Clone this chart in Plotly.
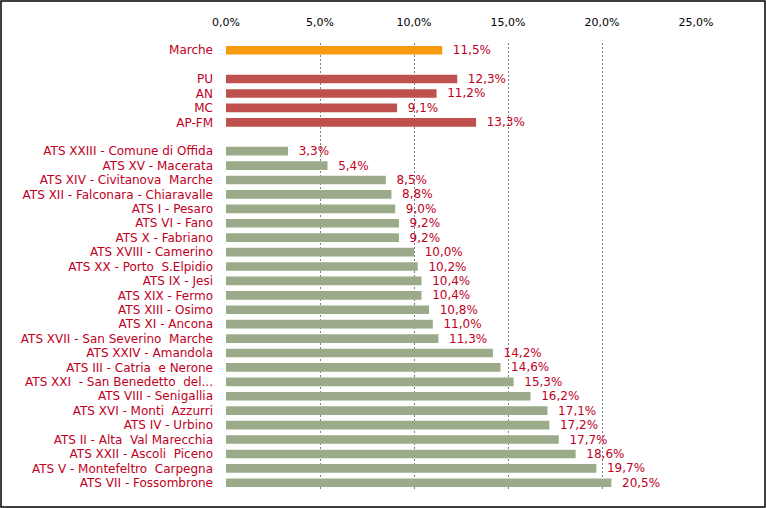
import plotly.graph_objects as go

region_labels = ["Marche"]
region_values = [11.5]

province_labels = ["PU", "AN", "MC", "AP-FM"]
province_values = [12.3, 11.2, 9.1, 13.3]

ats_labels = [
    "ATS XXIII - Comune di Offida",
    "ATS XV - Macerata",
    "ATS XIV - Civitanova  Marche",
    "ATS XII - Falconara - Chiaravalle",
    "ATS I - Pesaro",
    "ATS VI - Fano",
    "ATS X - Fabriano",
    "ATS XVIII - Camerino",
    "ATS XX - Porto  S.Elpidio",
    "ATS IX - Jesi",
    "ATS XIX - Fermo",
    "ATS XIII - Osimo",
    "ATS XI - Ancona",
    "ATS XVII - San Severino  Marche",
    "ATS XXIV - Amandola",
    "ATS III - Catria  e Nerone",
    "ATS XXI  - San Benedetto  del...",
    "ATS VIII - Senigallia",
    "ATS XVI - Monti  Azzurri",
    "ATS IV - Urbino",
    "ATS II - Alta  Val Marecchia",
    "ATS XXII - Ascoli  Piceno",
    "ATS V - Montefeltro  Carpegna",
    "ATS VII - Fossombrone",
]
ats_values = [3.3, 5.4, 8.5, 8.8, 9.0, 9.2, 9.2, 10.0, 10.2, 10.4, 10.4, 10.8,
              11.0, 11.3, 14.2, 14.6, 15.3, 16.2, 17.1, 17.2, 17.7, 18.6, 19.7, 20.5]

x_ticks = [0, 5, 10, 15, 20, 25]
x_tick_text = [f"{v:.1f}%".replace(".", ",") for v in x_ticks]

spacer1 = " "
spacer2 = "  "
category_order = region_labels + [spacer1] + province_labels + [spacer2] + ats_labels

text_color = "#C0001E"
font_family = "DejaVu Sans, Verdana, sans-serif"

fig = go.Figure()

def add_series(labels, values, color):
    fig.add_trace(go.Bar(
        y=labels, x=values, orientation="h",
        marker=dict(color=color, line=dict(width=0)),
        width=0.6,
        texttemplate="  %{x:.1f}%",
        textposition="outside",
        constraintext="none",
        textfont=dict(color=text_color, size=12, family=font_family),
        cliponaxis=False,
        hoverinfo="skip",
        showlegend=False,
    ))

add_series(region_labels, region_values, "#F69A10")
add_series(province_labels, province_values, "#C0504D")
add_series(ats_labels, ats_values, "#9BAB8A")

W, H = 766, 508
ml, mr, mt, mb = 226, 70, 43, 18
pw, ph = W - ml - mr, H - mt - mb

fig.update_layout(
    width=W, height=H,
    margin=dict(l=ml, r=mr, t=mt, b=mb, pad=0),
    paper_bgcolor="white", plot_bgcolor="white",
    separators=",.",
    bargap=0.4,
    font=dict(family=font_family, size=12, color="black"),
    xaxis=dict(
        side="top", range=[0, 25], tickvals=x_ticks, ticktext=x_tick_text,
        showgrid=True, gridcolor="#7F7F7F", griddash="2px,2px", gridwidth=1,
        zeroline=False, showline=False, ticks="",
        ticklabelstandoff=14,
        tickfont=dict(color="black", size=11, family=font_family),
        fixedrange=True,
    ),
    yaxis=dict(
        type="category", categoryorder="array", categoryarray=category_order,
        autorange="reversed",
        showgrid=False, zeroline=False, showline=False, ticks="",
        ticklabelstandoff=12,
        tickfont=dict(color=text_color, size=12, family=font_family),
        fixedrange=True,
    ),
    shapes=[dict(
        type="rect", xref="paper", yref="paper",
        x0=(1 - ml) / pw, x1=(W - 1 - ml) / pw,
        y0=(H - mb - (H - 1)) / ph, y1=(H - mb - 1) / ph,
        line=dict(color="black", width=1.5), fillcolor="rgba(0,0,0,0)",
        layer="above",
    )],
)

fig.write_html(
    "out.html",
    config={"displayModeBar": False},
    post_script="document.body.style.margin='0';document.body.style.overflow='hidden';",
)
